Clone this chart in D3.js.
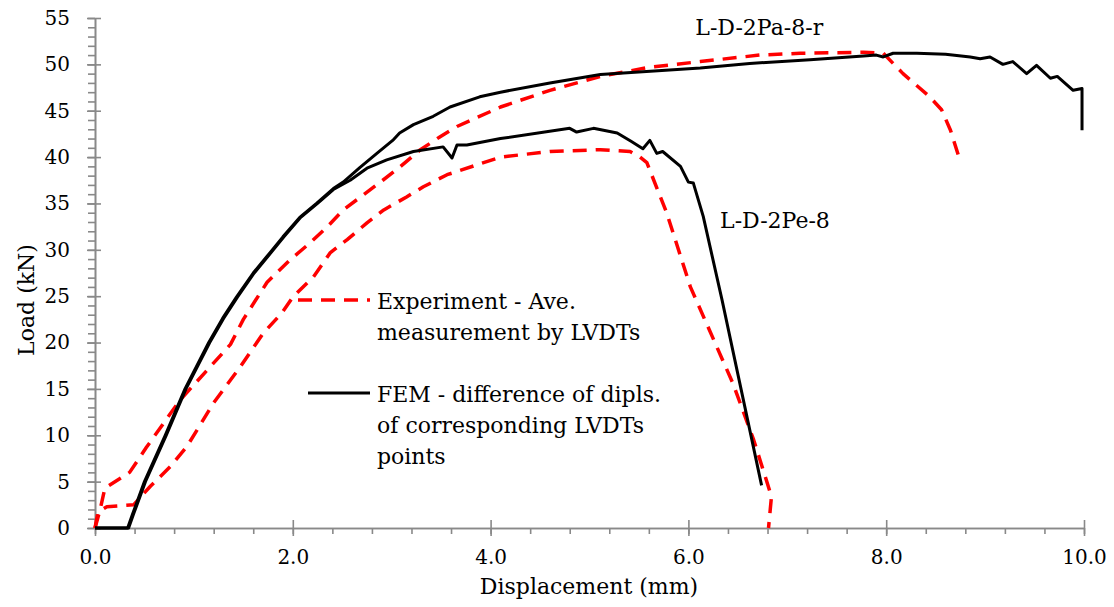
<!DOCTYPE html>
<html>
<head>
<meta charset="utf-8">
<script src="https://cdn.jsdelivr.net/npm/d3@7"></script>
<style>
  body { margin: 0; background: #fff; }
  text { font-family: "DejaVu Serif", "Liberation Serif", serif; fill: #000; }
</style>
</head>
<body>
<svg id="chart" width="1114" height="607"></svg>
<script>
// Load-displacement data (mm, kN)
var femPaDisp = [0, 0.33, 0.38, 0.5, 0.71, 0.91, 1.15, 1.29, 1.43, 1.60, 1.77, 1.90, 2.07, 2.24, 2.41, 2.51, 2.68, 2.85, 3.01, 3.08, 3.22, 3.42, 3.59, 3.89, 4.10, 4.60, 5.11, 6.12, 6.62, 7.23, 7.77, 7.90, 7.97, 8.07, 8.31, 8.60, 8.85, 8.95, 9.05, 9.18, 9.28, 9.42, 9.52, 9.66, 9.73, 9.89, 9.98, 9.98];
var femPaLoad = [0, 0, 1.5, 5, 10, 15, 20, 22.6, 24.9, 27.5, 29.7, 31.4, 33.5, 35.0, 36.6, 37.3, 38.9, 40.4, 41.8, 42.6, 43.5, 44.4, 45.4, 46.5, 47.0, 48.0, 48.9, 49.6, 50.1, 50.5, 50.9, 51.0, 50.8, 51.2, 51.2, 51.1, 50.8, 50.6, 50.8, 50.0, 50.3, 49.0, 49.9, 48.5, 48.7, 47.2, 47.4, 42.9];

var femPeDisp = [0, 0.34, 0.39, 0.51, 0.72, 0.92, 1.16, 1.30, 1.44, 1.61, 1.78, 1.91, 2.08, 2.25, 2.41, 2.58, 2.75, 2.95, 3.22, 3.52, 3.61, 3.66, 3.76, 4.10, 4.80, 4.87, 5.04, 5.28, 5.42, 5.54, 5.61, 5.68, 5.74, 5.92, 6.00, 6.05, 6.15, 6.34, 6.74];
var femPeLoad = [0, 0, 1.5, 5, 10, 15, 20, 22.6, 24.9, 27.5, 29.7, 31.4, 33.5, 35.0, 36.5, 37.5, 38.8, 39.7, 40.6, 41.1, 39.9, 41.3, 41.3, 42.0, 43.1, 42.7, 43.1, 42.6, 41.7, 40.9, 41.8, 40.4, 40.6, 39.0, 37.3, 37.2, 33.6, 24.6, 4.6];

var expPaDisp = [0, 0.05, 0.10, 0.35, 0.52, 0.86, 1.37, 1.50, 1.74, 1.97, 2.17, 2.35, 2.51, 2.71, 2.91, 3.08, 3.29, 3.49, 3.66, 4.10, 4.60, 5.11, 5.61, 6.12, 6.72, 7.13, 7.77, 7.97, 8.17, 8.44, 8.56, 8.65, 8.75];
var expPaLoad = [0, 1.9, 4.3, 6.0, 8.7, 13.8, 19.8, 22.5, 26.5, 28.9, 30.7, 32.5, 34.3, 35.9, 37.5, 38.9, 40.8, 42.2, 43.3, 45.4, 47.2, 48.7, 49.7, 50.3, 51.0, 51.2, 51.3, 51.2, 49.0, 46.5, 45.1, 42.9, 39.5];

var expPeDisp = [0, 0.03, 0.12, 0.39, 0.56, 0.76, 0.93, 1.20, 1.47, 1.70, 1.89, 2.00, 2.21, 2.38, 2.55, 2.75, 2.92, 3.15, 3.32, 3.56, 4.10, 4.60, 5.11, 5.41, 5.51, 5.58, 5.78, 6.02, 6.45, 6.66, 6.84, 6.81];
var expPeLoad = [0, 1.7, 2.3, 2.5, 4.5, 6.6, 8.8, 13.5, 17.4, 21.0, 23.2, 24.9, 27.1, 29.7, 31.1, 32.9, 34.3, 35.7, 36.8, 38.1, 40.0, 40.6, 40.8, 40.6, 40.0, 39.4, 34.0, 26.0, 15.6, 9.5, 3.4, 0.0];

// Tick values
var xMajorTicks = [0, 2, 4, 6, 8, 10];
var xMinorTicks = d3.range(0, 10.01, 0.4);
var yMajorTicks = [0, 5, 10, 15, 20, 25, 30, 35, 40, 45, 50, 55];
var yMinorTicks = d3.range(0, 55.01, 1);

// Text
var xTitle = "Displacement (mm)";
var yTitle = "Load (kN)";
var expLegend = ["Experiment - Ave.", "measurement by LVDTs"];
var femLegend = ["FEM - difference of dipls.", "of corresponding LVDTs", "points"];
var labelPa = "L-D-2Pa-8-r";
var labelPe = "L-D-2Pe-8";

var axisColor = "#898989";

var svg = d3.select("#chart");

var xScale = d3.scaleLinear().domain([0, 10]).range([95, 1084]);
var yScale = d3.scaleLinear().domain([0, 55]).range([528, 18]);

function pairs(xs, ys) {
	return xs.map(function(d, i) { return [d, ys[i]]; });
}

// Axes
var yMinorAxis = d3.axisLeft(yScale).tickValues(yMinorTicks).tickSize(7).tickSizeOuter(0).tickFormat("");
var yAxis = d3.axisLeft(yScale).tickValues(yMajorTicks).tickSize(8).tickSizeOuter(0).tickPadding(16);
var xMinorAxis = d3.axisBottom(xScale).tickValues(xMinorTicks).tickSize(6).tickSizeOuter(0).tickFormat("");
var xAxis = d3.axisBottom(xScale).tickValues(xMajorTicks).tickSize(8).tickSizeOuter(0).tickPadding(14).tickFormat(d3.format(".1f"));

svg.append("g").attr("transform", "translate(95,0)").call(yMinorAxis);
var gy = svg.append("g").attr("transform", "translate(95,0)").call(yAxis);
gy.selectAll(".tick line").attr("x1", 6);
gy.selectAll(".tick text").style("font-size", "20px").attr("x", -25);

svg.append("g").attr("transform", "translate(0,528)").call(xMinorAxis);
var gx = svg.append("g").attr("transform", "translate(0,528)").call(xAxis);
gx.selectAll(".tick line").attr("y1", -8);
gx.selectAll(".tick text").style("font-size", "20px").attr("y", 22);

svg.selectAll(".domain, .tick line").attr("stroke", axisColor).attr("stroke-width", 1.6);
svg.selectAll(".tick text").attr("fill", "#000").style("font-family", "DejaVu Serif");

// Axis titles
svg.append("text")
	.attr("x", 589).attr("y", 594)
	.attr("text-anchor", "middle")
	.style("font-size", "22px")
	.text(xTitle);

svg.append("text")
	.attr("transform", "translate(34,300) rotate(-90)")
	.attr("text-anchor", "middle")
	.style("font-size", "22px")
	.text(yTitle);

// Curves
var line = d3.line()
	.x(function(d) { return xScale(d[0]); })
	.y(function(d) { return yScale(d[1]); });

var series = [
	{ data: pairs(expPeDisp, expPeLoad), color: "#ff0000", dash: "14,9" },
	{ data: pairs(expPaDisp, expPaLoad), color: "#ff0000", dash: "14,9" },
	{ data: pairs(femPeDisp, femPeLoad), color: "#000", dash: null },
	{ data: pairs(femPaDisp, femPaLoad), color: "#000", dash: null }
];

svg.selectAll(".curve")
	.data(series)
	.enter()
	.append("path")
	.attr("class", "curve")
	.attr("d", function(d) { return line(d.data); })
	.attr("fill", "none")
	.attr("stroke", function(d) { return d.color; })
	.attr("stroke-width", function(d) { return d.dash ? 3.5 : 3; })
	.attr("stroke-dasharray", function(d) { return d.dash; })
	.attr("stroke-linejoin", "round");

// Curve labels
svg.append("text")
	.attr("x", xScale(6.07)).attr("y", yScale(53.2))
	.style("font-size", "22px")
	.text(labelPa);

svg.append("text")
	.attr("x", xScale(6.32)).attr("y", yScale(32.35))
	.style("font-size", "22px")
	.text(labelPe);

// Legend
var legend = svg.append("g");

legend.append("line")
	.attr("x1", 298).attr("x2", 370)
	.attr("y1", 300).attr("y2", 300)
	.attr("stroke", "#ff0000")
	.attr("stroke-width", 3.5)
	.attr("stroke-dasharray", "14,9");

legend.append("line")
	.attr("x1", 308).attr("x2", 370)
	.attr("y1", 393).attr("y2", 393)
	.attr("stroke", "#000")
	.attr("stroke-width", 3);

legend.selectAll(".exp")
	.data(expLegend)
	.enter()
	.append("text")
	.attr("class", "exp")
	.attr("x", 377)
	.attr("y", function(d, i) { return 309 + i * 31; })
	.style("font-size", "22px")
	.text(function(d) { return d; });

legend.selectAll(".fem")
	.data(femLegend)
	.enter()
	.append("text")
	.attr("class", "fem")
	.attr("x", 377)
	.attr("y", function(d, i) { return 402 + i * 31; })
	.style("font-size", "22px")
	.text(function(d) { return d; });
</script>
</body>
</html>
